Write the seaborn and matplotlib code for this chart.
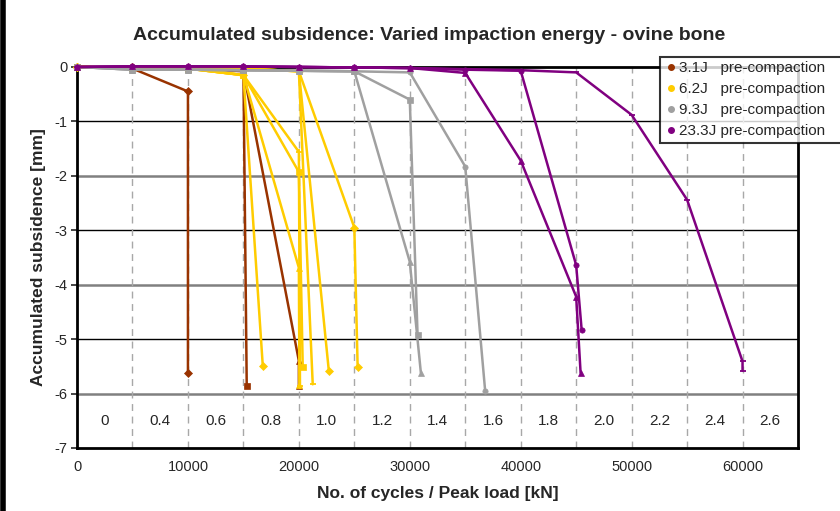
import matplotlib
matplotlib.use("Agg")
import matplotlib.pyplot as plt
from matplotlib.lines import Line2D
import seaborn as sns
import pandas as pd

# ---------------- data ----------------
energies = ["3.1J   pre-compaction", "6.2J   pre-compaction",
            "9.3J   pre-compaction", "23.3J pre-compaction"]
colors = ["#993300", "#FFCC00", "#A0A0A0", "#800080"]

# 3.1 J specimens
b1_x = [0, 5000, 10000, 10000]
b1_y = [0, -0.03, -0.45, -5.62]
b2_x = [0, 5000, 10000, 15000, 15300]
b2_y = [0, -0.02, -0.03, -0.05, -5.87]
b3_x = [0, 5000, 10000, 15000, 20000, 20000]
b3_y = [0, -0.02, -0.03, -0.08, -5.40, -5.87]

# 6.2 J specimens
y1_x = [0, 5000, 10000, 15000, 16750]
y1_y = [0, -0.02, -0.03, -0.15, -5.50]
y2_x = [0, 5000, 10000, 15000, 20000, 20100]
y2_y = [0, -0.02, -0.03, -0.15, -1.56, -5.87]
y3_x = [0, 5000, 10000, 15000, 20000, 20350]
y3_y = [0, -0.02, -0.03, -0.15, -1.93, -5.52]
y4_x = [0, 5000, 10000, 15000, 20000, 20050]
y4_y = [0, -0.02, -0.03, -0.15, -3.69, -5.85]
y5_x = [0, 5000, 10000, 15000, 20000, 21250]
y5_y = [0, -0.01, -0.02, -0.03, -0.08, -5.83]
y6_x = [0, 5000, 10000, 15000, 20000, 22700]
y6_y = [0, -0.01, -0.02, -0.03, -0.08, -5.58]
y7_x = [0, 5000, 10000, 15000, 20000, 25000, 25300]
y7_y = [0, -0.01, -0.02, -0.03, -0.08, -2.95, -5.52]

# 9.3 J specimens
g1_x = [0, 5000, 10000, 15000, 20000, 25000, 30000, 31000]
g1_y = [0, -0.05, -0.05, -0.06, -0.07, -0.08, -3.58, -5.62]
g2_x = [0, 5000, 10000, 15000, 20000, 25000, 30000, 30700]
g2_y = [0, -0.05, -0.05, -0.06, -0.07, -0.08, -0.60, -4.92]
g3_x = [0, 5000, 10000, 15000, 20000, 25000, 30000, 35000, 36800]
g3_y = [0, -0.05, -0.05, -0.06, -0.07, -0.08, -0.10, -1.83, -5.96]

# 23.3 J specimens
p1_x = [0, 5000, 10000, 15000, 20000, 25000, 30000, 35000, 40000, 45000, 45400]
p1_y = [0, 0.01, 0.01, 0.01, 0.0, -0.01, -0.02, -0.11, -1.72, -4.22, -5.62]
p2_x = [0, 5000, 10000, 15000, 20000, 25000, 30000, 35000, 40000, 45000, 45500]
p2_y = [0, 0.01, 0.01, 0.01, 0.0, -0.01, -0.02, -0.05, -0.07, -3.64, -4.84]
p3_x = [0, 5000, 10000, 15000, 20000, 25000, 30000, 35000, 40000, 45000,
        50000, 55000, 60000, 60000]
p3_y = [0, 0.01, 0.01, 0.01, 0.0, -0.01, -0.02, -0.04, -0.06, -0.10,
        -0.88, -2.44, -5.41, -5.58]

load_labels = ["0", "0.4", "0.6", "0.8", "1.0", "1.2", "1.4", "1.6",
               "1.8", "2.0", "2.2", "2.4", "2.6"]
load_pos = [2500 + 5000 * i for i in range(len(load_labels))]

x_ticks = [0, 10000, 20000, 30000, 40000, 50000, 60000]
y_ticks = [0, -1, -2, -3, -4, -5, -6, -7]

series = [
    (b1_x, b1_y, 0, "D"), (b2_x, b2_y, 0, "s"), (b3_x, b3_y, 0, "^"),
    (y1_x, y1_y, 1, "D"), (y2_x, y2_y, 1, "+"), (y3_x, y3_y, 1, "s"),
    (y4_x, y4_y, 1, "^"), (y5_x, y5_y, 1, "_"), (y6_x, y6_y, 1, "D"),
    (y7_x, y7_y, 1, "D"),
    (g1_x, g1_y, 2, "^"), (g2_x, g2_y, 2, "s"), (g3_x, g3_y, 2, "o"),
    (p1_x, p1_y, 3, "^"), (p2_x, p2_y, 3, "o"), (p3_x, p3_y, 3, "_"),
]

# ---------------- plot ----------------
sns.set_style("white")
plt.rcParams["font.family"] = ["Liberation Sans", "DejaVu Sans"]

fig = plt.figure(figsize=(8.4, 5.11), dpi=100)
ax = fig.add_axes([0.0917, 0.1233, 0.8583, 0.7457])

# grid lines
for i, yv in enumerate([-1, -2, -3, -4, -5, -6]):
    if i % 2 == 0:
        ax.axhline(yv, color="black", lw=1.0, zorder=1)
    else:
        ax.axhline(yv, color="#808080", lw=1.8, zorder=1)
for xv in range(5000, 60001, 5000):
    ax.axvline(xv, color="#A8A8A8", lw=1.0, ls=(0, (5, 4)), zorder=1)

for xs, ys, ci, mk in series:
    df = pd.DataFrame({"x": xs, "y": ys})
    col = colors[ci]
    small = mk in "+_"
    sns.lineplot(data=df, x="x", y="y", sort=False, estimator=None, ax=ax,
                 color=col, lw=1.8, marker=mk, markersize=5 if small else 3.8,
                 markeredgecolor=col, markeredgewidth=1.3 if small else 0.5,
                 zorder=3, clip_on=False)

# load labels
for xp, lab in zip(load_pos, load_labels):
    ax.text(xp, -6.5, lab, ha="center", va="center", fontsize=11)

ax.set_xlim(0, 65000)
ax.set_ylim(-7, 0)
ax.set_xticks(x_ticks)
ax.set_xticklabels([str(v) for v in x_ticks], fontsize=10.5)
ax.set_yticks(y_ticks)
ax.set_yticklabels([str(v) for v in y_ticks], fontsize=10.5)
ax.tick_params(axis="y", direction="out", length=4, width=1.2, left=True, pad=3)
ax.tick_params(axis="x", length=0, pad=9)
for s in ax.spines.values():
    s.set_color("black")
    s.set_linewidth(2)
ax.set_xlabel("No. of cycles / Peak load [kN]", fontsize=12.5, fontweight="bold", labelpad=8)
ax.set_ylabel("Accumulated subsidence [mm]", fontsize=12.5, fontweight="bold", labelpad=6)
fig.text(0.511, 0.93, "Accumulated subsidence: Varied impaction energy - ovine bone",
         ha="center", va="center", fontsize=14, fontweight="bold")

handles = [Line2D([0], [0], marker="o", ls="none", color=c, markersize=4) for c in colors]
leg = fig.legend(handles, energies, loc="upper left", bbox_to_anchor=(0.786, 0.889, 0.25, 0),
                 mode="expand", fontsize=11, frameon=True, fancybox=False, handletextpad=0.1,
                 handlelength=0.8, borderpad=0.3, labelspacing=0.45, borderaxespad=0)
leg.get_frame().set_edgecolor("black")
leg.get_frame().set_linewidth(1.5)

fig.add_artist(Line2D([0.003, 0.003], [0, 1], lw=4, color="black",
                      transform=fig.transFigure))

fig.savefig("out.png", dpi=100)
